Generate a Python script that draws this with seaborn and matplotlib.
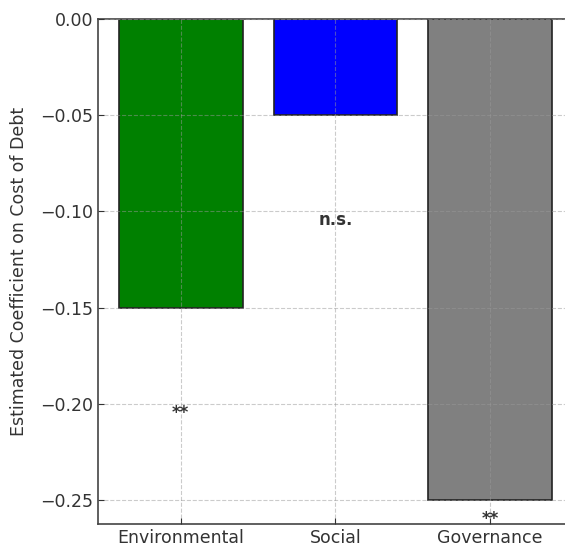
import pandas as pd
import numpy as np
import matplotlib
matplotlib.use('Agg')
import matplotlib.pyplot as plt
import seaborn as sns

# ESG pillar coefficients on cost of debt
categories = ['Environmental', 'Social', 'Governance']
coefficients = [-0.15, -0.05, -0.25]
significance = ['**', 'n.s.', '**']
bar_colors = ['green', 'blue', 'gray']

df = pd.DataFrame({'Pillar': categories, 'Coefficient': coefficients})

plt.rcParams['font.family'] = ['DejaVu Sans']
plt.rcParams['axes.unicode_minus'] = True
text_color = '#333333'

fig = plt.figure(figsize=(5.65, 5.48), dpi=100)
ax = fig.add_axes([0.1735, 0.0438, 0.8405, 0.9212])

sns.barplot(data=df, x='Pillar', y='Coefficient', hue='Pillar',
            palette=bar_colors, edgecolor='#222222', linewidth=1.2,
            width=0.8, saturation=1, legend=False, ax=ax)

# significance markers under each bar
for i, (coef, sig) in enumerate(zip(coefficients, significance)):
    ax.text(i, max(coef - 0.05, -0.255), sig, ha='center', va='top',
            fontsize=12, fontweight='bold', color=text_color)

ax.set_xlim(-0.535, 2.535)
ax.set_ylim(-0.2625, 0)
ax.set_yticks([0, -0.05, -0.10, -0.15, -0.20, -0.25])
ax.set_xlabel('')
ax.set_ylabel('Estimated Coefficient on Cost of Debt', fontsize=12.5,
              color=text_color, labelpad=9)
ax.tick_params(direction='in', labelsize=12.5, colors=text_color, length=4)
ax.grid(True, linestyle='--', color='#999999', alpha=0.5, linewidth=0.8)
ax.set_axisbelow(False)
for s in ax.spines.values():
    s.set_color('#444444')
    s.set_linewidth(1.2)

fig.savefig('out.png', dpi=100)
